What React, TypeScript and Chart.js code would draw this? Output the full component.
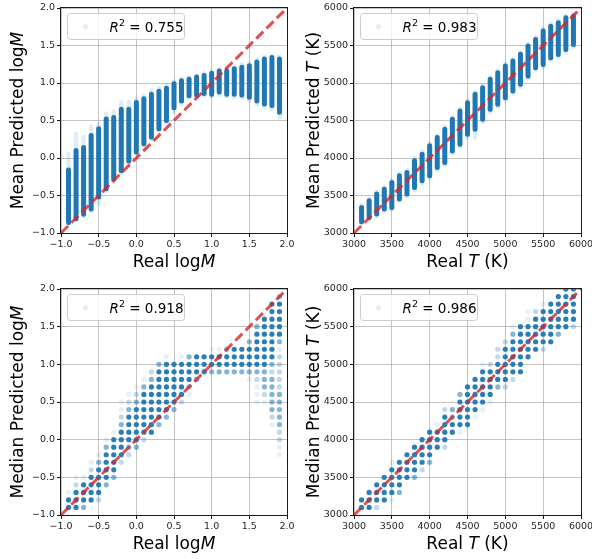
import { useEffect, useRef } from "react";
import { Chart, registerables } from "chart.js";

Chart.register(...registerables);

const FONT = "'DejaVu Sans', 'Liberation Sans', sans-serif";
const BLUE = "31, 119, 180";

// ---- true classes -------------------------------------------------------
const massClasses = [
  -0.9, -0.8, -0.7, -0.6, -0.5, -0.4, -0.3, -0.2, -0.1, 0.0, 0.1, 0.2, 0.3, 0.4, 0.5,
  0.6, 0.7, 0.8, 0.9, 1.0, 1.1, 1.2, 1.3, 1.4, 1.5, 1.6, 1.7, 1.8, 1.9,
];
const tempClasses = [
  3100, 3200, 3300, 3400, 3500, 3600, 3700, 3800, 3900, 4000, 4100, 4200, 4300, 4400, 4500,
  4600, 4700, 4800, 4900, 5000, 5100, 5200, 5300, 5400, 5500, 5600, 5700, 5800, 5900,
];

// ---- mean predictions: dense range and sparse tails per class ------------
const meanMassCoreLo = [
  -0.86, -0.81, -0.75, -0.68, -0.52, -0.41, -0.28, -0.17, -0.04, 0.08, 0.19, 0.28, 0.39, 0.5, 0.67,
  0.76, 0.83, 0.84, 0.86, 0.85, 0.88, 0.85, 0.85, 0.84, 0.81, 0.76, 0.72, 0.7, 0.61,
];
const meanMassCoreHi = [
  -0.16, 0.1, 0.14, 0.3, 0.39, 0.52, 0.54, 0.65, 0.65, 0.74, 0.79, 0.85, 0.89, 0.93, 0.99,
  1.03, 1.05, 1.08, 1.1, 1.13, 1.16, 1.16, 1.19, 1.21, 1.23, 1.28, 1.32, 1.34, 1.32,
];
const meanMassTailLo = [
  -0.88, -0.83, -0.77, -0.71, -0.61, -0.44, -0.32, -0.2, -0.08, 0.05, 0.16, 0.25, 0.35, 0.46, 0.62,
  0.72, 0.8, 0.81, 0.83, 0.82, 0.84, 0.82, 0.81, 0.8, 0.77, 0.72, 0.68, 0.65, 0.54,
];
const meanMassTailHi = [
  0.05, 0.32, 0.28, 0.42, 0.45, 0.59, 0.62, 0.74, 0.75, 0.79, 0.83, 0.9, 0.93, 0.97, 1.02,
  1.06, 1.08, 1.1, 1.13, 1.16, 1.19, 1.19, 1.22, 1.25, 1.27, 1.31, 1.35, 1.36, 1.35,
];

const meanTempCoreLo = [
  3150, 3208, 3253, 3319, 3341, 3452, 3519, 3608, 3696, 3763, 3874, 3940, 4095, 4184, 4317,
  4384, 4517, 4650, 4716, 4805, 4894, 4982, 5093, 5204, 5248, 5337, 5381, 5448, 5514,
];
const meanTempCoreHi = [
  3340, 3430, 3519, 3585, 3674, 3763, 3807, 3962, 4051, 4162, 4273, 4384, 4517, 4627, 4738,
  4849, 4938, 5049, 5137, 5226, 5293, 5382, 5492, 5581, 5692, 5758, 5803, 5869, 5891,
];
const meanTempTailLo = [
  3125, 3180, 3225, 3290, 3310, 3420, 3490, 3575, 3660, 3730, 3840, 3905, 4060, 4150, 4270,
  4270, 4480, 4610, 4680, 4770, 4860, 4950, 5060, 5170, 5210, 5300, 5345, 5410, 5480,
];
const meanTempTailHi = [
  3370, 3460, 3550, 3615, 3705, 3795, 3840, 4000, 4090, 4200, 4305, 4420, 4550, 4660, 4770,
  4880, 4970, 5080, 5170, 5260, 5325, 5415, 5525, 5615, 5725, 5790, 5840, 5900, 5925,
];

// ---- median predictions: lowest predicted value per class, then one
// density code per grid step (S dense, M medium, L light, F faint) ---------
const medMassStart = [
  -0.9, -0.9, -0.9, -0.8, -0.8, -0.6, -0.5, -0.3, -0.2, -0.1, 0.0, 0.1, 0.2, 0.3, 0.4,
  0.5, 0.6, 0.8, 0.9, 0.9, 0.9, 0.9, 0.9, 0.9, 0.8, 0.5, 0.5, 0.2, -0.2,
];
const medMassCodes = [
  "SSF", "SSSLF", "MSSSF", "SSSSLF", "LSSSSMF", "MSSSSMF", "MSSSSSF", "LSSSSMLFF", "LMSSSSMLF",
  "MSSSSSMLF", "LSSSSSSMF", "SSSSSSSML", "MSSSSSSSM", "MSSSSSSSF", "MSSSSSS",
  "LSSSSSF", "FMSSSM", "MSSS", "SSS", "MSSF", "MSSF", "MSSM", "MSSS", "MSSS", "FMSSSM",
  "FFFLMSSSSSM", "FLMMMSSSSSSS", "FLMMMMMLMSSSSSSSS", "FFLLMMMMMLLLLLFMSSSSSM",
];

const medTempStart = [
  3100, 3100, 3100, 3200, 3200, 3300, 3500, 3500, 3600, 3700, 3900, 3900, 4100, 4100, 4200,
  4300, 4400, 4500, 4700, 4700, 4800, 4900, 5100, 5200, 5200, 5300, 5400, 5500, 5500,
];
const medTempCodes = [
  "SS", "SSS", "LSSS", "SSSS", "FSSSSF", "MSSSS", "SSSS", "MSSSS", "LSSSS", "MSSSS", "SSSF",
  "LSSSSL", "SSMM", "FSSSSM", "SSSSSS", "FSSSSS", "FSSSSSF", "FSSSSL", "MSSSLL", "LSSSSSL",
  "LSSSSSMF", "SSSSSSS", "SSSSSFF", "SSSSSL", "LSSSSSF", "SSSSSS", "MSSSSS", "SSSSSS", "LSSSSS",
];

// ---- axes ---------------------------------------------------------------
const massLimits = [-1.0, 2.0];
const tempLimits = [3000, 6000];
const massTicks = [-1.0, -0.5, 0.0, 0.5, 1.0, 1.5, 2.0];
const tempTicks = [3000, 3500, 4000, 4500, 5000, 5500, 6000];

const r2Scores = ["0.755", "0.983", "0.918", "0.986"];

const ALPHA: Record<string, number> = { S: 0.95, M: 0.55, L: 0.28, F: 0.1 };

type Part = { text: string; italic?: boolean; size?: number; rise?: number };

function spreadColumns(xs: number[], lo: number[], hi: number[]) {
  const out: { x: number; y: number | null }[] = [];
  xs.forEach((x, i) => {
    out.push({ x, y: lo[i] }, { x, y: hi[i] }, { x, y: null });
  });
  return out;
}

function densityDots(xs: number[], start: number[], codes: string[], step: number) {
  const data: { x: number; y: number }[] = [];
  const colors: string[] = [];
  xs.forEach((x, i) => {
    codes[i].split("").forEach((c, k) => {
      if (!(c in ALPHA)) return;
      data.push({ x, y: Math.round((start[i] + k * step) * 1000) / 1000 });
      colors.push(`rgba(${BLUE}, ${ALPHA[c]})`);
    });
  });
  return { data, colors };
}

function identityLine(lim: number[]) {
  return {
    type: "line",
    data: [
      { x: lim[0], y: lim[0] },
      { x: lim[1], y: lim[1] },
    ],
    borderColor: "rgba(214, 39, 40, 0.8)",
    borderWidth: 3,
    borderDash: [10, 4.5],
    pointRadius: 0,
    clip: 0,
    order: 0,
  };
}

function meanDatasets(xs: number[], lo: number[], hi: number[], tlo: number[], thi: number[], lim: number[]) {
  return [
    identityLine(lim),
    {
      type: "line",
      data: spreadColumns(xs, lo, hi),
      borderColor: `rgb(${BLUE})`,
      borderWidth: 5,
      borderCapStyle: "round",
      pointRadius: 0,
      spanGaps: false,
      clip: 0,
      order: 1,
    },
    {
      type: "line",
      data: spreadColumns(xs, tlo, thi),
      borderColor: `rgba(${BLUE}, 0.14)`,
      borderWidth: 4.5,
      borderCapStyle: "round",
      pointRadius: 0,
      spanGaps: false,
      clip: 0,
      order: 2,
    },
  ];
}

function medianDatasets(xs: number[], start: number[], codes: string[], step: number, lim: number[]) {
  const dots = densityDots(xs, start, codes, step);
  return [
    identityLine(lim),
    {
      type: "line",
      data: dots.data,
      showLine: false,
      pointRadius: 2.6,
      pointBorderWidth: 0,
      pointBackgroundColor: dots.colors,
      clip: 0,
      order: 1,
    },
  ];
}

const fmtMass = (v: number) => Number(v).toFixed(1).replace("-", "\u2212");
const fmtTemp = (v: number) => String(Math.round(Number(v)));

type Spec = {
  box: { x: number; y: number; w: number; h: number };
  padTop: number;
  padRight: number;
  yAxisW: number;
  xAxisH: number;
  lim: number[];
  ticks: number[];
  fmt: (v: number) => string;
  xTitle: Part[];
  yTitle: Part[];
  r2: string;
  datasets: any[];
};

const massX: Part[] = [{ text: "Real log" }, { text: "M", italic: true }];
const tempX: Part[] = [{ text: "Real " }, { text: "T", italic: true }, { text: " (K)" }];

const specs: Spec[] = [
  {
    box: { x: 0, y: 0, w: 296, h: 280 },
    padTop: 8,
    padRight: 9,
    yAxisW: 61,
    xAxisH: 47,
    lim: massLimits,
    ticks: massTicks,
    fmt: fmtMass,
    xTitle: massX,
    yTitle: [{ text: "Mean Predicted log" }, { text: "M", italic: true }],
    r2: r2Scores[0],
    datasets: meanDatasets(massClasses, meanMassCoreLo, meanMassCoreHi, meanMassTailLo, meanMassTailHi, massLimits),
  },
  {
    box: { x: 296, y: 0, w: 296, h: 280 },
    padTop: 8,
    padRight: 11,
    yAxisW: 58,
    xAxisH: 47,
    lim: tempLimits,
    ticks: tempTicks,
    fmt: fmtTemp,
    xTitle: tempX,
    yTitle: [{ text: "Mean Predicted " }, { text: "T", italic: true }, { text: " (K)" }],
    r2: r2Scores[1],
    datasets: meanDatasets(tempClasses, meanTempCoreLo, meanTempCoreHi, meanTempTailLo, meanTempTailHi, tempLimits),
  },
  {
    box: { x: 0, y: 280, w: 296, h: 279 },
    padTop: 9,
    padRight: 9,
    yAxisW: 61,
    xAxisH: 44,
    lim: massLimits,
    ticks: massTicks,
    fmt: fmtMass,
    xTitle: massX,
    yTitle: [{ text: "Median Predicted log" }, { text: "M", italic: true }],
    r2: r2Scores[2],
    datasets: medianDatasets(massClasses, medMassStart, medMassCodes, 0.1, massLimits),
  },
  {
    box: { x: 296, y: 280, w: 296, h: 279 },
    padTop: 9,
    padRight: 11,
    yAxisW: 58,
    xAxisH: 44,
    lim: tempLimits,
    ticks: tempTicks,
    fmt: fmtTemp,
    xTitle: tempX,
    yTitle: [{ text: "Median Predicted " }, { text: "T", italic: true }, { text: " (K)" }],
    r2: r2Scores[3],
    datasets: medianDatasets(tempClasses, medTempStart, medTempCodes, 100, tempLimits),
  },
];

function drawRich(ctx: CanvasRenderingContext2D, parts: Part[], size: number, x: number, y: number, center: boolean) {
  const fonts = parts.map((p) => `${p.italic ? "italic " : ""}${p.size ?? size}px ${FONT}`);
  const widths = parts.map((p, i) => {
    ctx.font = fonts[i];
    return ctx.measureText(p.text).width;
  });
  const total = widths.reduce((a, b) => a + b, 0);
  let cx = center ? x - total / 2 : x;
  ctx.textAlign = "left";
  ctx.textBaseline = "alphabetic";
  parts.forEach((p, i) => {
    ctx.font = fonts[i];
    ctx.fillText(p.text, cx, y - (p.rise ?? 0));
    cx += widths[i];
  });
}

// Frame, legend box and axis titles with italic symbols
const decor = {
  id: "decor",
  afterDraw(chart: any, _args: any, opts: any) {
    const ctx: CanvasRenderingContext2D = chart.ctx;
    const a = chart.chartArea;
    ctx.save();

    // spines
    ctx.strokeStyle = "#1a1a1a";
    ctx.lineWidth = 1;
    ctx.strokeRect(Math.round(a.left) - 0.5, Math.round(a.top) - 0.5, Math.round(a.right - a.left) + 1, Math.round(a.bottom - a.top) + 1);

    // legend
    const bx = a.left + 6.5;
    const by = a.top + 5.5;
    const bw = 117;
    const bh = 26;
    ctx.beginPath();
    ctx.roundRect(bx, by, bw, bh, 3);
    ctx.fillStyle = "rgba(255, 255, 255, 0.8)";
    ctx.fill();
    ctx.strokeStyle = "#cccccc";
    ctx.lineWidth = 1;
    ctx.stroke();
    ctx.beginPath();
    ctx.arc(bx + 18, by + 13.2, 2.6, 0, Math.PI * 2);
    ctx.fillStyle = `rgba(${BLUE}, 0.12)`;
    ctx.fill();
    ctx.fillStyle = "#000";
    drawRich(
      ctx,
      [
        { text: "R", italic: true },
        { text: "2", size: 9.5, rise: 5.5 },
        { text: " = " + opts.r2 },
      ],
      13.5,
      bx + 42,
      by + 18,
      false
    );

    // axis titles
    ctx.fillStyle = "#000";
    drawRich(ctx, opts.xTitle, 17, (a.left + a.right) / 2, a.bottom + 34, true);
    ctx.translate(22.7, (a.top + a.bottom) / 2);
    ctx.rotate(-Math.PI / 2);
    drawRich(ctx, opts.yTitle, 17, 0, 0, true);
    ctx.restore();
  },
};

function buildConfig(s: Spec): any {
  const tickFont = { family: FONT, size: 9.5 };
  const grid = {
    color: "rgba(176, 176, 176, 0.75)",
    lineWidth: 1,
    tickColor: "#1a1a1a",
    tickLength: 4,
    tickWidth: 1,
  };
  const forceTicks = (scale: any) => {
    scale.ticks = s.ticks.map((value) => ({ value }));
  };
  return {
    type: "line",
    data: { datasets: s.datasets },
    plugins: [decor],
    options: {
      responsive: false,
      animation: false,
      events: [],
      layout: { padding: { top: s.padTop, right: s.padRight, left: 0, bottom: 0 } },
      plugins: {
        legend: { display: false },
        tooltip: { enabled: false },
        decor: { r2: s.r2, xTitle: s.xTitle, yTitle: s.yTitle },
      },
      scales: {
        x: {
          type: "linear",
          min: s.lim[0],
          max: s.lim[1],
          afterBuildTicks: forceTicks,
          ticks: { callback: s.fmt, font: tickFont, color: "#262626", padding: 2, maxRotation: 0, autoSkip: false },
          grid,
          border: { display: false },
          afterFit: (scale: any) => {
            scale.height = s.xAxisH;
            scale.paddingLeft = 0;
            scale.paddingRight = 0;
          },
        },
        y: {
          type: "linear",
          min: s.lim[0],
          max: s.lim[1],
          afterBuildTicks: forceTicks,
          ticks: { callback: s.fmt, font: tickFont, color: "#262626", padding: 2, autoSkip: false },
          grid,
          border: { display: false },
          afterFit: (scale: any) => {
            scale.width = s.yAxisW;
            scale.paddingTop = 0;
            scale.paddingBottom = 0;
          },
        },
      },
    },
  };
}

function Panel({ spec }: { spec: Spec }) {
  const ref = useRef<HTMLCanvasElement>(null);
  useEffect(() => {
    const chart = new Chart(ref.current as HTMLCanvasElement, buildConfig(spec));
    return () => chart.destroy();
  }, [spec]);
  return (
    <canvas
      ref={ref}
      width={spec.box.w}
      height={spec.box.h}
      style={{ position: "absolute", left: spec.box.x, top: spec.box.y, width: spec.box.w, height: spec.box.h }}
    />
  );
}

export default function App() {
  return (
    <div style={{ position: "absolute", left: 0, top: 0, width: 592, height: 559, background: "#fff" }}>
      {specs.map((s, i) => (
        <Panel key={i} spec={s} />
      ))}
    </div>
  );
}
